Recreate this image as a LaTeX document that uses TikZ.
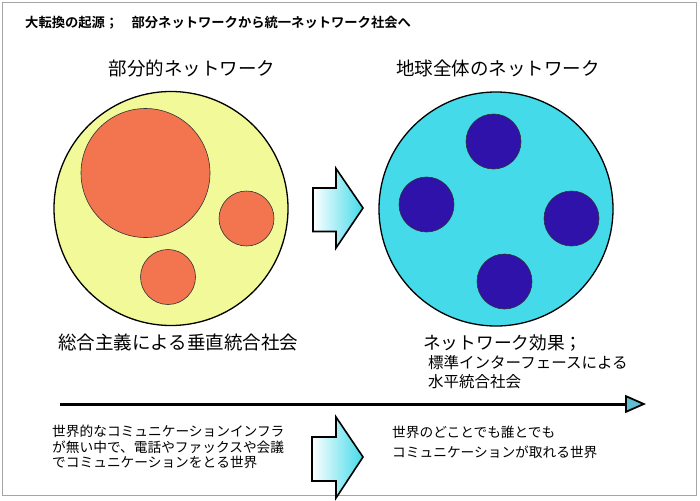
\documentclass[tikz,border=0pt]{standalone}
\usepackage{fontspec}
\setmainfont{Noto Sans CJK JP}[BoldFont={Noto Sans CJK JP Bold}]
\usetikzlibrary{arrows.meta}
\definecolor{yel}{RGB}{242,249,152}
\definecolor{ora}{RGB}{242,117,80}
\definecolor{cya}{RGB}{68,218,234}
\definecolor{dblue}{RGB}{46,18,170}
\definecolor{framec}{RGB}{165,165,165}
\definecolor{tipc}{RGB}{95,190,210}
\tikzset{
  bigdisc/.style={circle, draw=black, line width=1.3pt, inner sep=0, minimum size=234pt},
  subdisc/.style={circle, draw=black!80, line width=0.6pt, inner sep=0},
  blockarrow/.style={draw=black, line width=1.6pt, line join=miter, left color=white, right color=cya},
  txt/.style={inner sep=0, anchor=west},
  bigtxt/.style={inner sep=0, font=\fontsize{18.5}{20}\selectfont},
}
\begin{document}
\begin{tikzpicture}[x=1pt,y=-1pt]
\useasboundingbox (0,0) rectangle (700,500);
% frame
\draw[framec, line width=1pt] (2,3) rectangle (696,495);

% title
\node[txt, font=\fontsize{13.3}{15}\selectfont\bfseries] (title) at (25,23) {大転換の起源；　部分ネットワークから統一ネットワーク社会へ};

% headings
\node[bigtxt] (hleft) at (192,68) {部分的ネットワーク};
\node[bigtxt] (hright) at (498,68) {地球全体のネットワーク};

% left globe
\node[bigdisc, fill=yel] (gleft) at (171,208.5) {};
\node[subdisc, fill=ora, minimum size=129pt] (o1) at (145.5,173) {};
\node[subdisc, fill=ora, minimum size=55pt] (o2) at (246.5,218.5) {};
\node[subdisc, fill=ora, minimum size=55pt] (o3) at (168,277) {};

% right globe
\node[bigdisc, fill=cya] (gright) at (496,209) {};
\node[subdisc, fill=dblue, minimum size=55pt] (b1) at (493.5,141.5) {};
\node[subdisc, fill=dblue, minimum size=55pt] (b2) at (426.5,204.5) {};
\node[subdisc, fill=dblue, minimum size=55pt] (b3) at (571.5,218.5) {};
\node[subdisc, fill=dblue, minimum size=55pt] (b4) at (504.5,281.5) {};

% middle block arrow
\draw[blockarrow] (313,188) -- (336,188) -- (336,168.5) -- (363,208) -- (336,248) -- (336,231.5) -- (313,231.5) -- cycle;

% captions
\node[txt, font=\fontsize{18.5}{20}\selectfont] (capl) at (58,342) {総合主義による垂直統合社会};
\node[txt, font=\fontsize{17.7}{20}\selectfont] (capr) at (423,343) {ネットワーク効果；};
\node[txt, font=\fontsize{15.5}{18}\selectfont] (capr2) at (428,363) {標準インターフェースによる};
\node[txt, font=\fontsize{15.5}{18}\selectfont] (capr3) at (428,382) {水平統合社会};

% long timeline arrow
\coordinate (tlstart) at (60,404);
\coordinate (tlend) at (646,404);
\draw[line width=3pt, -{Triangle[length=21pt,width=18pt,fill=tipc,line width=1.8pt]}] (tlstart) -- (tlend);

% bottom texts
\node[txt, align=left, font=\fontsize{13.7}{15.5}\selectfont] (botl) at (52,447)
  {世界的なコミュニケーションインフラ\\が無い中で、電話やファックスや会議\\でコミュニケーションをとる世界};
\node[txt, align=left, font=\fontsize{13.7}{20}\selectfont] (botr) at (392,442)
  {世界のどことでも誰とでも\\コミュニケーションが取れる世界};

% bottom block arrow
\draw[blockarrow] (312,437) -- (336,437) -- (336,417) -- (363,457) -- (336,498) -- (336,481) -- (312,481) -- cycle;
\end{tikzpicture}
\end{document}
